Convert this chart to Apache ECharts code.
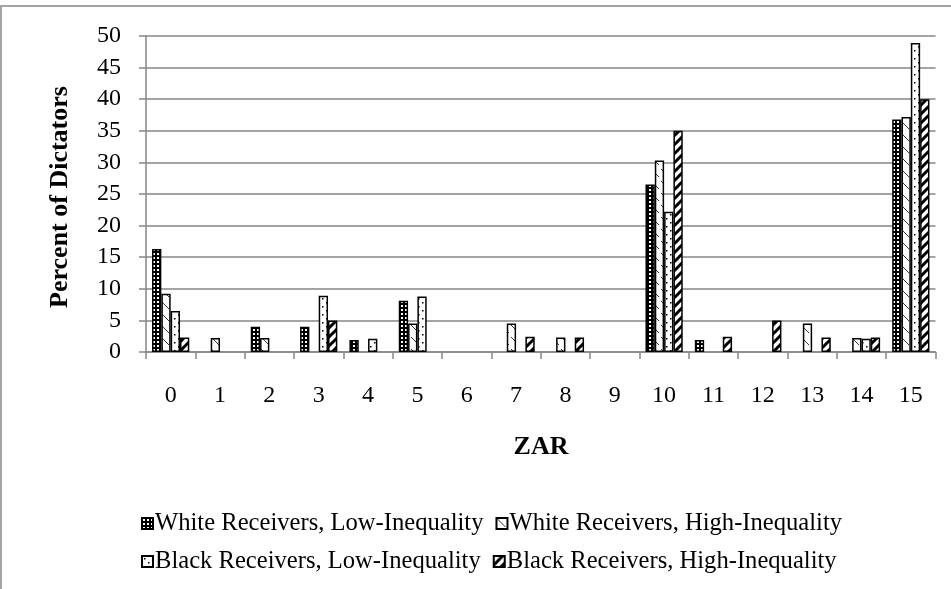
<!DOCTYPE html>
<html>
<head>
<meta charset="utf-8">
<script src="https://cdn.jsdelivr.net/npm/echarts@6/dist/echarts.min.js"></script>
<style>
html,body{margin:0;padding:0;background:#fff;}
#chart{width:951px;height:589px;}
</style>
</head>
<body>
<div id="chart"></div>
<script>
// ---- data ----
var categories = ['0','1','2','3','4','5','6','7','8','9','10','11','12','13','14','15'];
var seriesNames = ['White Receivers, Low-Inequality','White Receivers, High-Inequality','Black Receivers, Low-Inequality','Black Receivers, High-Inequality'];
var whiteLow  = [16.3, 0, 4.0, 4.0, 1.9, 8.1, 0, 0, 0, 0, 26.5, 1.9, 0, 0, 0, 36.8];
var whiteHigh = [9.2, 2.2, 2.2, 0, 0, 4.5, 0, 4.5, 2.3, 0, 30.3, 0, 0, 4.5, 2.2, 37.2];
var blackLow  = [6.5, 0, 0, 8.9, 2.1, 8.8, 0, 0, 0, 0, 22.2, 0, 0, 0, 2.1, 48.9];
var blackHigh = [2.3, 0, 0, 5.0, 0, 0, 0, 2.4, 2.3, 0, 35.0, 2.4, 5.0, 2.3, 2.3, 40.0];
var yTicks = [0,5,10,15,20,25,30,35,40,45,50];

// ---- patterns ----
function mk(w,h,draw){var c=document.createElement('canvas');c.width=w;c.height=h;var g=c.getContext('2d');g.fillStyle='#fff';g.fillRect(0,0,w,h);draw(g);return c;}
var pChecker = mk(4,4,function(g){g.fillStyle='#000';g.fillRect(0,0,4,4);g.fillStyle='#fff';g.fillRect(1,1,2,2);});
var pDash = mk(10,12,function(g){g.strokeStyle='#333';g.lineWidth=1;g.beginPath();g.moveTo(1,1);g.lineTo(9,9);g.stroke();});
var pDots = mk(8,8,function(g){g.fillStyle='#000';g.fillRect(2,2,1.5,1.5);g.fillRect(6,6,1.5,1.5);});
var pDiag = mk(9,9,function(g){g.strokeStyle='#000';g.lineWidth=3;g.beginPath();g.moveTo(-2,11);g.lineTo(11,-2);g.stroke();g.beginPath();g.moveTo(-2,2);g.lineTo(2,-2);g.stroke();g.beginPath();g.moveTo(7,11);g.lineTo(11,7);g.stroke();});
var patterns = [pChecker,pDash,pDots,pDiag];
var dataSets = [whiteLow, whiteHigh, blackLow, blackHigh];

var font = 'Liberation Serif';
var series = dataSets.map(function(arr,i){
  return {
    name: seriesNames[i], type:'bar',
    data: arr.map(function(v){return v===0?'-':v;}),
    barGap:'0%', barCategoryGap:'24.5%',
    itemStyle:{color:{image:patterns[i],repeat:'repeat'},borderColor:'#000',borderWidth:1.5},
    emphasis:{disabled:true}
  };
});

var legendText = {fontFamily:font,fontSize:24.6,color:'#000',padding:[0,0,0,-3]};
var chart = echarts.init(document.getElementById('chart'),null,{renderer:'canvas'});
chart.setOption({
  animation:false,
  backgroundColor:'#fff',
  grid:{left:146,right:15.5,top:36,bottom:237,containLabel:false},
  xAxis:{type:'category',data:categories,
    axisLine:{lineStyle:{color:'#868686',width:1.5}},
    axisTick:{show:true,length:7,lineStyle:{color:'#868686',width:1.5}},
    axisLabel:{color:'#000',fontFamily:font,fontSize:24,margin:32}
  },
  yAxis:{type:'value',min:yTicks[0],max:yTicks[yTicks.length-1],interval:5,
    axisLine:{show:true,lineStyle:{color:'#868686',width:1.5}},
    axisTick:{show:true,length:7,lineStyle:{color:'#868686',width:1.5}},
    splitLine:{lineStyle:{color:'#868686',width:1.5}},
    axisLabel:{color:'#000',fontFamily:font,fontSize:24,margin:25}
  },
  legend:[
    {data:[seriesNames[0],seriesNames[1]],left:136,top:506,icon:'rect',itemWidth:11,itemHeight:11,itemGap:12,
     textStyle:legendText,selectedMode:false},
    {data:[seriesNames[2],seriesNames[3]],left:136,top:544,icon:'rect',itemWidth:11,itemHeight:11,itemGap:12,
     textStyle:legendText,selectedMode:false}
  ],
  graphic:[
    {type:'rect',shape:{x:1,y:6,width:1200,height:1200},style:{fill:'none',stroke:'#868686',lineWidth:1.5},silent:true,z:-1},
    {type:'text',x:60,y:197,rotation:Math.PI/2,style:{text:'Percent of Dictators',fontFamily:font,fontSize:26,fontWeight:'bold',fill:'#000',textAlign:'center',textVerticalAlign:'middle'}},
    {type:'text',x:541,y:447,style:{text:'ZAR',fontFamily:font,fontSize:26,fontWeight:'bold',fill:'#000',textAlign:'center',textVerticalAlign:'middle'}}
  ],
  series:series
});
</script>
</body>
</html>
